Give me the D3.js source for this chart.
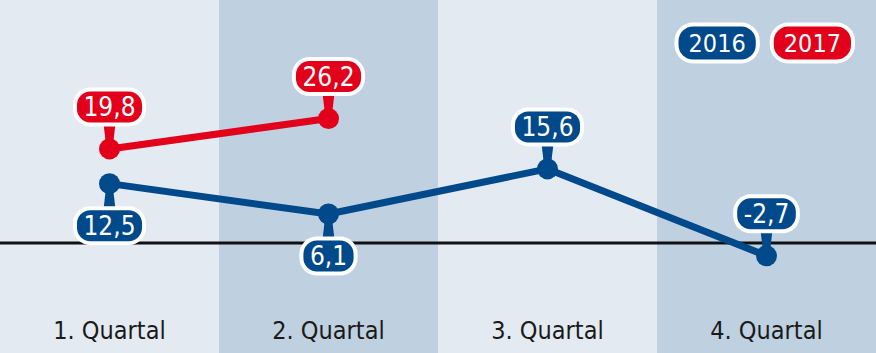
<!DOCTYPE html>
<html>
<head>
<meta charset="utf-8">
<script src="https://cdn.jsdelivr.net/npm/d3@7"></script>
<style>
  body { margin: 0; background: #fff; }
  svg { display: block; font-family: "Liberation Sans Narrow", "DejaVu Sans Condensed", "Liberation Sans", sans-serif; }
</style>
</head>
<body>
<div id="chart"></div>
<script>
// Quartalsveränderung 2016 vs 2017

const quarters = ["1. Quartal", "2. Quartal", "3. Quartal", "4. Quartal"];
const seriesNames = ["2016", "2017"];
const values2016 = [12.5, 6.1, 15.6, -2.7];
const values2017 = [19.8, 26.2, null, null];

const width = 876, height = 353;
const colors = { "2016": "#00498b", "2017": "#e2001a" };

const fmt = d3.formatLocale({ decimal: ",", thousands: ".", grouping: [3], currency: ["", "€"], minus: "-" }).format(".1f");

const svg = d3.select("#chart")
    .append("svg")
    .attr("width", width)
    .attr("height", height);

// Scales
const x = d3.scaleBand()
    .domain(quarters)
    .range([0, width])
    .padding(0);

const y = d3.scaleLinear()
    .domain([0, 20])
    .range([243, 148]);

const cx = q => x(q) + x.bandwidth() / 2;

// Column backgrounds
svg.selectAll("rect.col")
    .data(quarters)
    .enter()
    .append("rect")
    .attr("class", "col")
    .attr("x", d => x(d))
    .attr("y", 0)
    .attr("width", x.bandwidth())
    .attr("height", height)
    .attr("fill", (d, i) => i % 2 ? "#bfd0e1" : "#e4eaf2");

// Zero line
svg.append("line")
    .attr("x1", 0)
    .attr("x2", width)
    .attr("y1", y(0))
    .attr("y2", y(0))
    .attr("stroke", "#111")
    .attr("stroke-width", 3);

// Category labels
svg.selectAll("text.cat")
    .data(quarters)
    .enter()
    .append("text")
    .attr("class", "cat")
    .attr("x", d => cx(d))
    .attr("y", 339)
    .attr("text-anchor", "middle")
    .style("font-size", "25px")
    .attr("fill", "#1a1a1a")
    .text(d => d);

const series = [
    { name: "2016", values: values2016 },
    { name: "2017", values: values2017 }
];

// Lines
const line = d3.line()
    .defined(d => d.v != null)
    .x(d => cx(d.q))
    .y(d => y(d.v));

series.forEach(s => {
    const pts = quarters.map((q, i) => ({ q: q, v: s.values[i] }));
    svg.append("path")
        .datum(pts)
        .attr("d", line)
        .attr("fill", "none")
        .attr("stroke", colors[s.name])
        .attr("stroke-width", 7)
        .attr("stroke-linejoin", "round");
});

// Pill helper: white outline, coloured face, white text
function pill(g, label, color, padX, h, size) {
    const t = g.append("text")
        .attr("text-anchor", "middle")
        .attr("dy", "0.35em")
        .style("font-size", size + "px")
        .attr("fill", "#fff")
        .text(label);
    const w = t.node().getComputedTextLength() + padX;
    g.insert("rect", "text")
        .attr("class", "outer")
        .attr("x", -w / 2 - 4).attr("y", -h / 2 - 4)
        .attr("width", w + 8).attr("height", h + 8)
        .attr("rx", h / 2 + 2)
        .attr("fill", "#fff");
    g.insert("rect", "text")
        .attr("x", -w / 2).attr("y", -h / 2)
        .attr("width", w).attr("height", h)
        .attr("rx", h / 2 - 2)
        .attr("fill", color);
    return w;
}

// Points and value labels
series.forEach(s => {
    const color = colors[s.name];
    quarters.forEach((q, i) => {
        const v = s.values[i];
        if (v == null) return;
        const px = cx(q), py = y(v);
        // 2016 label goes below when 2017 has a value in the same quarter
        const below = s.name === "2016" && values2017[i] != null;
        const dir = below ? 1 : -1;
        const ly = py + dir * 42;
        const h = 31;
        const edge = ly - dir * (h / 2);

        const g = svg.append("g").attr("transform", `translate(${px},${ly})`);
        pill(g, fmt(v), color, 13, h, 26);

        // stem from label to point
        svg.append("path")
            .attr("d", `M${px - 6},${edge - dir * 1} L${px + 6},${edge - dir * 1} L${px + 3},${py} L${px - 3},${py} Z`)
            .attr("fill", color);

        svg.append("circle")
            .attr("cx", px)
            .attr("cy", py)
            .attr("r", 10.5)
            .attr("fill", color);

        // label face above the stem, white outline below it
        g.raise();
        g.select("rect.outer").lower();
    });
});

// Legend
let lx = 855;
seriesNames.slice().reverse().forEach(name => {
    const g = svg.append("g");
    const w = pill(g, name, colors[name], 20, 33, 25);
    g.attr("transform", `translate(${lx - 4 - w / 2},43)`);
    lx -= w + 8 + 10;
});
</script>
</body>
</html>
